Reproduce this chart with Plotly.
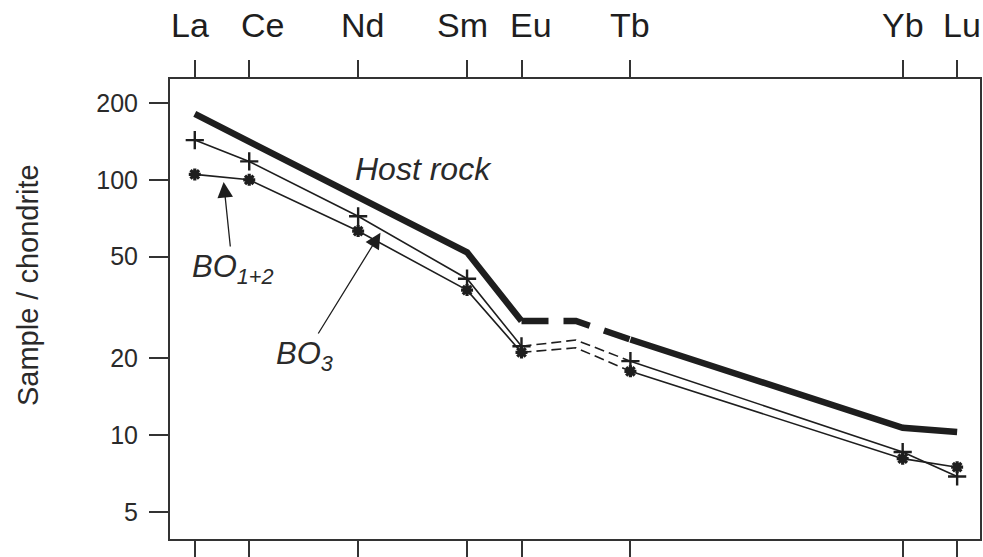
import math
import plotly.graph_objects as go

# ---------------- data ----------------
elements = ["La", "Ce", "Nd", "Sm", "Eu", "Gd", "Tb", "Yb", "Lu"]
atomic_number = [57, 58, 60, 62, 63, 64, 65, 70, 71]
labelled = ["La", "Ce", "Nd", "Sm", "Eu", "Tb", "Yb", "Lu"]   # Gd: interpolated only

host_rock = [181, 141, 86, 52, 28, 28, 23.7, 10.7, 10.3]
bo_3 = [143, 118, 72, 41, 22.3, 23.6, 19.5, 8.6, 6.9]
bo_12 = [105, 100, 63, 37, 21.1, 22.0, 17.8, 8.1, 7.5]

y_ticks = [5, 10, 20, 50, 100, 200]
y_ticktext = ["5", "10", "20", "50", "100", "200"]
dashed_part = ["Eu", "Gd", "Tb"]

# ---------------- styling ----------------
FONT = "Liberation Sans, Arial, Helvetica, sans-serif"
INK = "#1e1e1e"
AXIS = "#333333"
label_nudge = {"La": -5, "Ce": 13, "Nd": 4, "Sm": -5, "Eu": 9, "Tb": 0, "Yb": 0, "Lu": 5}

zmap = dict(zip(elements, atomic_number))


def solid_y(vals):
    return [None if e == "Gd" else v for e, v in zip(elements, vals)]


def dashed_xy(vals):
    xs = [zmap[e] for e in dashed_part]
    ys = [v for e, v in zip(elements, vals) if e in dashed_part]
    return xs, ys


def marker_xy(vals):
    xs = [zmap[e] for e in elements if e != "Gd"]
    ys = [v for e, v in zip(elements, vals) if e != "Gd"]
    return xs, ys


fig = go.Figure()

# host rock (thick line)
fig.add_trace(go.Scatter(x=atomic_number, y=solid_y(host_rock), mode="lines",
                         line=dict(color=INK, width=6.5), connectgaps=False,
                         hoverinfo="skip", showlegend=False))
dx, dy = dashed_xy(host_rock)
fig.add_trace(go.Scatter(x=dx, y=dy, mode="lines",
                         line=dict(color=INK, width=6.5, dash="27px,15px"),
                         hoverinfo="skip", showlegend=False))

# BO series
for vals, sym, msize, mlw in [(bo_3, "cross-thin-open", 13, 2.4),
                              (bo_12, "asterisk-open", 10, 3.2)]:
    fig.add_trace(go.Scatter(x=atomic_number, y=solid_y(vals), mode="lines",
                             line=dict(color=INK, width=1.6), connectgaps=False,
                             hoverinfo="skip", showlegend=False))
    dx, dy = dashed_xy(vals)
    fig.add_trace(go.Scatter(x=dx, y=dy, mode="lines",
                             line=dict(color=INK, width=1.6, dash="10px,5px"),
                             hoverinfo="skip", showlegend=False))
    mx, my = marker_xy(vals)
    fig.add_trace(go.Scatter(x=mx, y=my, mode="markers",
                             marker=dict(symbol=sym, size=msize, color=INK,
                                         line=dict(color=INK, width=mlw)),
                             hoverinfo="skip", showlegend=False))

annotations = []
# element labels on top
for e in labelled:
    annotations.append(dict(x=zmap[e], xref="x", y=1, yref="paper",
                            text=e, showarrow=False, xanchor="center", yanchor="middle",
                            xshift=label_nudge[e], yshift=54,
                            font=dict(family=FONT, size=34, color=INK)))

# y-axis title
annotations.append(dict(x=-0.176, xref="paper", y=0.553, yref="paper",
                        text="Sample / chondrite", textangle=-90, showarrow=False,
                        xanchor="center", yanchor="middle",
                        font=dict(family=FONT, size=29, color="#2a2a2a")))

# labels in plot
annotations.append(dict(x=0.2254, xref="paper", y=0.805, yref="paper",
                        text="<i>Host rock</i>", showarrow=False,
                        xanchor="left", yanchor="middle",
                        font=dict(family=FONT, size=32, color="#2a2a2a")))

# series labels with arrows pointing at the lines
annotations.append(dict(x=57.53, xref="x", y=math.log10(98), yref="y",
                        ax=9, ay=87, text="<i>BO<sub>1+2</sub></i>", showarrow=True,
                        arrowhead=2, arrowsize=2.4, arrowwidth=1.3, arrowcolor=INK,
                        standoff=0, startstandoff=1,
                        font=dict(family=FONT, size=31, color="#2a2a2a")))
annotations.append(dict(x=60.41, xref="x", y=math.log10(62), yref="y",
                        ax=-76, ay=123, text="<i>BO<sub>3</sub></i>", showarrow=True,
                        arrowhead=2, arrowsize=2.4, arrowwidth=1.3, arrowcolor=INK,
                        standoff=0, startstandoff=1,
                        font=dict(family=FONT, size=31, color="#2a2a2a")))

fig.update_layout(
    width=983, height=557, autosize=False,
    margin=dict(l=170, r=1, t=79, b=17, pad=0),
    plot_bgcolor="white", paper_bgcolor="white",
    annotations=annotations,
    font=dict(family=FONT, color=INK),
)
fig.update_xaxes(range=[56.545, 71.42], tickmode="array",
                 tickvals=[zmap[e] for e in labelled], showticklabels=False,
                 ticks="outside", ticklen=17, tickwidth=1.5, tickcolor=AXIS,
                 showline=True, linecolor=AXIS, linewidth=2, mirror="ticks",
                 showgrid=False, zeroline=False)
fig.update_yaxes(type="log", range=[0.594, 2.3945], tickmode="array",
                 tickvals=y_ticks, ticktext=y_ticktext,
                 ticks="outside", ticklen=19, tickwidth=1.5, tickcolor=AXIS,
                 ticklabelstandoff=6,
                 tickfont=dict(family=FONT, size=25, color="#2a2a2a"),
                 showline=True, linecolor=AXIS, linewidth=2, mirror=True,
                 showgrid=False, zeroline=False)

# remove the browser's default 8 px body margin so the 983x557 figure fills the window
fig.write_html("out.html", config={"displayModeBar": False},
               post_script="document.body.style.margin='0';document.body.style.overflow='hidden';")
